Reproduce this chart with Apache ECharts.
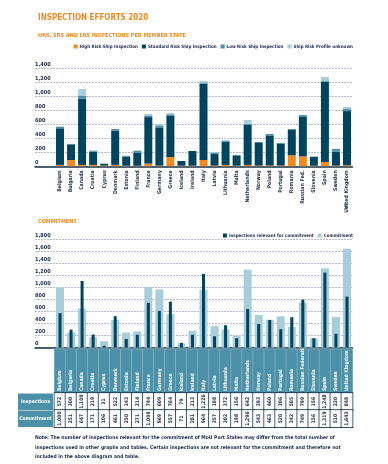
<!DOCTYPE html>
<html><head><meta charset="utf-8">
<script src="https://cdn.jsdelivr.net/npm/echarts@6/dist/echarts.min.js"></script>
<style>html,body{margin:0;padding:0;background:#fff;}#c{width:388px;height:464px;}</style>
</head><body><div id="c"></div>
<script>
// ---- data ----
const countries1 = ['Belgium','Bulgaria','Canada','Croatia','Cyprus','Denmark','Estonia','Finland','France','Germany','Greece','Iceland','Ireland','Italy','Latvia','Lithuania','Malta','Netherlands','Norway','Poland','Portugal','Romania','Russian Fed.','Slovenia','Spain','Sweden','United Kingdom'];
const countries2 = ['Belgium','Bulgaria','Canada','Croatia','Cyprus','Denmark','Estonia','Finland','France','Germany','Greece','Iceland','Ireland','Italy','Latvia','Lithuania','Malta','Netherlands','Norway','Poland','Portugal','Romania','Russian Federation','Slovenia','Spain','Sweden','United Kingdom'];
const highRisk     = [20, 90, 20, 20, 10, 20, 8, 8, 38, 10, 133, 8, 8, 90, 10, 20, 8, 20, 10, 10, 10, 157, 143, 8, 62, 10, 14];
const standardRisk = [523, 214, 946, 189, 27, 489, 129, 187, 665, 546, 586, 68, 211, 1091, 165, 332, 139, 575, 323, 423, 309, 362, 561, 129, 1147, 199, 775];
const lowRisk      = [23, 15, 38, 14, 0, 24, 14, 28, 24, 29, 24, 0, 0, 14, 19, 10, 14, 10, 14, 29, 14, 14, 29, 0, 10, 38, 29];
const unknownRisk  = [0, 0, 100, 0, 0, 0, 0, 0, 20, 19, 19, 0, 0, 24, 0, 14, 0, 57, 0, 0, 0, 0, 0, 0, 57, 0, 29];
const inspections  = [572, 300, 1109, 219, 31, 522, 143, 214, 744, 609, 764, 79, 213, 1226, 188, 372, 156, 642, 393, 460, 306, 505, 799, 156, 1248, 230, 848];
const commitment   = [1000, 251, 647, 171, 106, 461, 250, 271, 1009, 969, 557, 71, 281, 964, 357, 302, 198, 1296, 543, 463, 520, 342, 749, 156, 1319, 510, 1643];
const ticks1 = [0, 1400, 200];
const ticks2 = [0, 1800, 200];

// ---- style ----
const FONT = "'Liberation Sans Narrow','DejaVu Sans Condensed','Roboto Condensed','Liberation Sans',sans-serif";
const ORANGE = '#f28a24', NAVY = '#00445f', TEAL = '#4c91a8', LIGHT = '#a8cedb', TXT = '#1d2b4a';
const GRIDLINE = {color: '#b7bccb', type: [2, 1], width: 1};
const fmt = v => v.toLocaleString('en-US');

const chart = echarts.init(document.getElementById('c'), null, {renderer: 'canvas'});

function labelAxisY(gi, t) {
  return {gridIndex: gi, type: 'value', min: t[0], max: t[1], interval: t[2],
    axisLine: {show: false}, axisTick: {show: false},
    splitLine: {show: true, lineStyle: GRIDLINE},
    axisLabel: {inside: true, margin: 0, verticalAlign: 'bottom', formatter: v => fmt(v),
      fontSize: 5.5, fontWeight: 'bold', color: TXT, fontFamily: FONT, padding: [0, 0, 1, 0]}};
}
function hiddenY(gi, t) {
  return {gridIndex: gi, type: 'value', min: t[0], max: t[1], interval: t[2], show: false, splitLine: {show: false}};
}
function baseX(gi, data) {
  return {gridIndex: gi, type: 'category', data: data,
    axisTick: {show: false}, axisLabel: {show: false},
    axisLine: {show: true, lineStyle: {color: '#16304a', width: 1.5}}};
}
function tableAxis(values, offset) {
  return {gridIndex: 3, type: 'category', data: countries2, position: 'bottom', offset: offset,
    axisLine: {show: false}, axisTick: {show: false},
    axisLabel: {show: true, interval: 0, rotate: 90, margin: 0, hideOverlap: false,
      formatter: (v, i) => '{c|' + fmt(values[i]) + '}',
      rich: {c: {width: 17, height: 11, align: 'center', verticalAlign: 'middle', backgroundColor: '#fff',
        borderColor: '#1b3550', borderWidth: 0.8, fontSize: 5, fontWeight: 'bold', color: TXT, fontFamily: FONT}}}};
}

const option = {
  animation: false,
  backgroundColor: '#fff',
  textStyle: {fontFamily: FONT},
  title: [
    {text: 'INSPECTION EFFORTS 2020', left: 33, top: 9, textStyle: {fontSize: 8, fontWeight: 'bold', color: ORANGE, fontFamily: FONT}},
    {text: 'HRS, SRS AND LRS INSPECTIONS PER MEMBER STATE', left: 33, top: 28, textStyle: {fontSize: 5.5, fontWeight: 'bold', color: ORANGE, fontFamily: FONT}},
    {text: 'COMMITMENT', left: 33, top: 214, textStyle: {fontSize: 5.5, fontWeight: 'bold', color: ORANGE, fontFamily: FONT}}
  ],
  legend: [
    {data: ['High Risk Ship Inspection', 'Standard Risk Ship Inspection', 'Low Risk Ship Inspection', 'Ship Risk Profile unknown'],
      right: 35, top: 44, itemWidth: 4, itemHeight: 4, itemGap: 4, icon: 'rect', padding: 0,
      textStyle: {fontSize: 4.5, fontWeight: 'bold', color: TXT, fontFamily: FONT, padding: [0, 0, 0, -3]}},
    {data: ['Inspections relevant for commitment', 'Commitment'],
      right: 35, top: 233, itemWidth: 4, itemHeight: 4, itemGap: 4, icon: 'rect', padding: 0,
      textStyle: {fontSize: 4.5, fontWeight: 'bold', color: TXT, fontFamily: FONT, padding: [0, 0, 0, -3]}}
  ],
  grid: [
    {left: 35, right: 35.5, top: 68.3, height: 98, outerBoundsMode: 'none'},
    {left: 54.5, right: 35.5, top: 68.3, height: 98, outerBoundsMode: 'none'},
    {left: 35, right: 35.5, top: 239.4, height: 108.2, outerBoundsMode: 'none'},
    {left: 54.5, right: 35.5, top: 239.4, height: 108.2, outerBoundsMode: 'none'}
  ],
  xAxis: [
    baseX(0, countries1),
    {gridIndex: 1, type: 'category', data: countries1, axisLine: {show: false}, axisTick: {show: false},
      axisLabel: {interval: 0, rotate: 90, margin: 4, fontSize: 5.2, fontWeight: 'bold', color: TXT, fontFamily: FONT, hideOverlap: false}},
    baseX(2, countries2),
    {gridIndex: 3, type: 'category', data: countries2, position: 'bottom', offset: 1.5,
      axisLine: {show: false}, axisTick: {show: false},
      axisLabel: {interval: 0, rotate: 90, margin: 0, hideOverlap: false,
        formatter: v => '{b|' + v + '}',
        rich: {b: {width: 41, height: 11, padding: [0, 1, 0, 2], align: 'left', verticalAlign: 'middle',
          backgroundColor: TEAL, borderColor: '#9cc6d4', borderWidth: 0.5, color: '#fff', fontSize: 5, fontWeight: 'bold', fontFamily: FONT}}}},
    tableAxis(inspections, 45.5),
    tableAxis(commitment, 62.5),
    {gridIndex: 3, type: 'category', data: countries2, show: false}
  ],
  yAxis: [labelAxisY(0, ticks1), hiddenY(1, ticks1), labelAxisY(2, ticks2), hiddenY(3, ticks2)],
  series: [
    {name: 'High Risk Ship Inspection', type: 'bar', xAxisIndex: 1, yAxisIndex: 1, stack: 'a', barWidth: 8, data: highRisk, itemStyle: {color: ORANGE}},
    {name: 'Standard Risk Ship Inspection', type: 'bar', xAxisIndex: 1, yAxisIndex: 1, stack: 'a', barWidth: 8, data: standardRisk, itemStyle: {color: NAVY}},
    {name: 'Low Risk Ship Inspection', type: 'bar', xAxisIndex: 1, yAxisIndex: 1, stack: 'a', barWidth: 8, data: lowRisk, itemStyle: {color: TEAL}},
    {name: 'Ship Risk Profile unknown', type: 'bar', xAxisIndex: 1, yAxisIndex: 1, stack: 'a', barWidth: 8, data: unknownRisk, itemStyle: {color: LIGHT}},
    {name: 'Commitment', type: 'bar', xAxisIndex: 3, yAxisIndex: 3, barWidth: 8, data: commitment, itemStyle: {color: LIGHT}, z: 2},
    {name: 'Inspections relevant for commitment', type: 'bar', xAxisIndex: 6, yAxisIndex: 3, barWidth: 3, data: inspections, itemStyle: {color: NAVY}, z: 3}
  ],
  graphic: [
    {type: 'rect', shape: {x: 18, y: 393.5, width: 35, height: 16.5}, style: {fill: TEAL}},
    {type: 'text', x: 35.5, y: 401.8, style: {text: 'Inspections', fill: '#fff', fontSize: 5, fontWeight: 'bold', fontFamily: FONT, align: 'center', verticalAlign: 'middle'}},
    {type: 'rect', shape: {x: 18, y: 410.5, width: 35, height: 16.5}, style: {fill: TEAL}},
    {type: 'text', x: 35.5, y: 418.8, style: {text: 'Commitment', fill: '#fff', fontSize: 5, fontWeight: 'bold', fontFamily: FONT, align: 'center', verticalAlign: 'middle'}},
    {type: 'text', x: 344, y: 204, style: {text: 'S', fill: '#2a4f9a', fontSize: 6, fontWeight: 'bold', fontFamily: FONT}},
    {type: 'text', x: 35, y: 433, style: {
      text: 'Note: The number of inspections relevant for the commitment of MoU Port States may differ from the total number of\ninspections used in other graphs and tables. Certain inspections are not relevant for the commitment and therefore not\nincluded in the above diagram and table.',
      fill: TXT, fontSize: 5, fontWeight: 'bold', lineHeight: 9.5, fontFamily: FONT}}
  ]
};
chart.setOption(option);
</script>
</body></html>
